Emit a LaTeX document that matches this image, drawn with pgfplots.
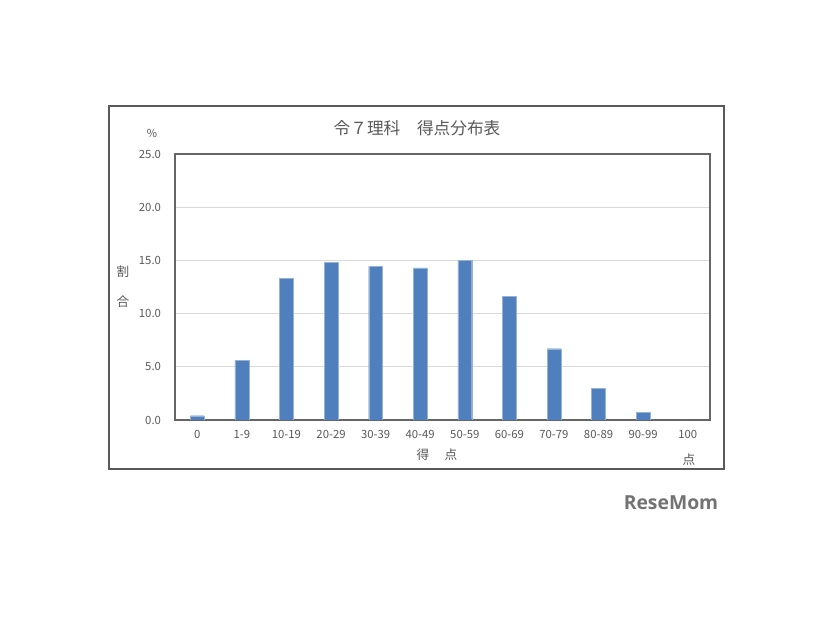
\documentclass[border=0pt]{standalone}
\usepackage{fontspec}
\setmainfont{Noto Sans CJK JP}
\newfontfamily\logofont{Open Sans}
\usepackage{pgfplots}
\pgfplotsset{compat=1.18}
\definecolor{bar}{HTML}{4F7FBD}
\definecolor{txt}{HTML}{595959}
\definecolor{grd}{HTML}{D9D9D9}
\begin{document}
\begin{tikzpicture}[x=0.75pt,y=-0.75pt]
% canvas and frame (pixel coordinates, y down)
\fill[white] (0,0) rectangle (826,620);
\draw[black!65, line width=0.9pt] (109,106) rectangle (724,469);
\begin{axis}[
  at={(131.25pt,-315pt)}, anchor=south west,
  scale only axis, width=401.25pt, height=199.5pt,
  ymin=0, ymax=25, ytick={0,5,...,25},
  xmin=-0.5, xmax=11.5,
  xtick={0,...,11},
  xticklabels={0,1-9,10-19,20-29,30-39,40-49,50-59,60-69,70-79,80-89,90-99,100},
  yticklabel={\pgfmathprintnumber[fixed,fixed zerofill,precision=1]{\tick}},
  /pgf/number format/assume math mode=true,
  major tick length=0pt,
  ymajorgrids, grid style={grd, line width=0.8pt},
  axis line style={black!60, line width=0.8pt},
  ticklabel style={font=\fontsize{8.5}{10}\selectfont, text=txt},
  yticklabel style={xshift=-7pt},
  xticklabel style={yshift=-4pt},
  ybar, bar width=0.31,
]
\addplot[fill=bar, draw=bar!60!white, line width=0.3pt] coordinates {
(0,0.4) (1,5.6) (2,13.3) (3,14.8) (4,14.45) (5,14.3)
(6,15.0) (7,11.65) (8,6.7) (9,3.0) (10,0.75) (11,0)
};
\end{axis}
\node[text=txt, font=\fontsize{12.5}{14}\selectfont] at (417,128) {令７理科　得点分布表};
\node[text=txt, font=\fontsize{8.3}{10}\selectfont] at (152,133) {\%};
\node[text=txt, font=\fontsize{9.5}{11}\selectfont] at (123,272) {割};
\node[text=txt, font=\fontsize{9.5}{11}\selectfont] at (123,302) {合};
\node[text=txt, font=\fontsize{9.5}{11}\selectfont] at (437,455) {得\hspace{1.2em}点};
\node[text=txt, font=\fontsize{9.5}{11}\selectfont] at (689,460) {点};
\node[text=black!55, font=\logofont\bfseries\fontsize{14.5}{16}\selectfont] at (671,503) {ReseMom};
\end{tikzpicture}
\end{document}
